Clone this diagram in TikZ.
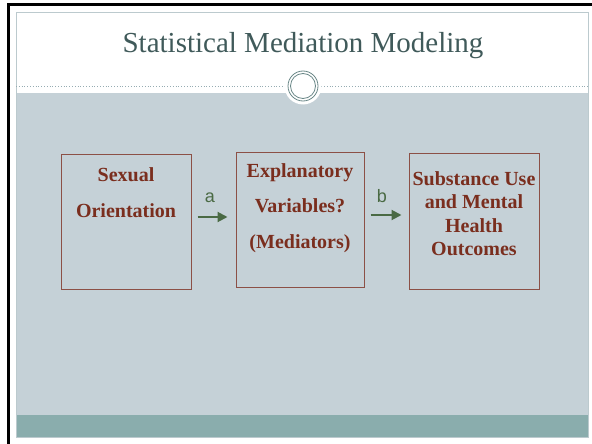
\documentclass[tikz,border=0pt]{standalone}
\usepackage{fontspec}
\setmainfont{Liberation Serif}
\newfontfamily\labelfont{Liberation Sans}
\usetikzlibrary{arrows.meta}
\definecolor{slidegray}{RGB}{197,209,215}
\definecolor{barteal}{RGB}{138,173,173}
\definecolor{framegray}{RGB}{188,202,206}
\definecolor{dotcol}{RGB}{150,172,178}
\definecolor{titlecol}{RGB}{64,90,90}
\definecolor{ringcol}{RGB}{105,135,135}
\definecolor{boxline}{RGB}{140,80,70}
\definecolor{boxtext}{RGB}{122,46,30}
\definecolor{arrowgreen}{RGB}{74,106,68}
\tikzset{
  box/.style={draw=boxline, line width=1pt, minimum width=#1, minimum height=135pt, inner sep=0pt},
  boxtxt/.style={text=boxtext, align=center, inner sep=0pt, font=\bfseries\fontsize{20}{#1}\selectfont},
  arr/.style={draw=arrowgreen, line width=2pt, -{Triangle[length=10pt,width=10pt]}},
  lbl/.style={text=arrowgreen, inner sep=0pt, font=\labelfont\fontsize{18}{20}\selectfont},
  titletxt/.style={text=titlecol, inner sep=0pt, font=\fontsize{29}{32}\selectfont}
}
\begin{document}
\begin{tikzpicture}[x=1pt,y=-1pt]
\useasboundingbox (0,0) rectangle (592,444);
\fill[white] (0,0) rectangle (592,444);
% window border
\fill[black] (7,3) rectangle (592,6);
\fill[black] (7,3) rectangle (10,444);
% slide
\fill[slidegray] (16,93) rectangle (588,415);
\fill[barteal] (16,415) rectangle (588,437);
\draw[framegray, line width=1pt] (16,13) rectangle (588,437);
\draw[dotcol, dotted, line width=0.8pt] (16,86) -- (588,86);
\fill[white] (303,86) circle (18.5);
\draw[ringcol, line width=0.8pt] (303,86) circle (15);
\draw[ringcol, line width=0.8pt] (303,86) circle (12.5);
% title
\node[titletxt, anchor=base] (title) at (303,53) {Statistical Mediation Modeling};
% boxes
\node[box=130pt] (b1) at (126,221.5) {};
\node[box=128pt] (b2) at (300,219.5) {};
\node[box=130pt, minimum height=136pt] (b3) at (474,221) {};
\node[boxtxt=36pt] (t1) at (126,192.5) {Sexual\\Orientation};
\node[boxtxt=35.5pt] (t2) at (300,208) {Explanatory\\Variables?\\(Mediators)};
\node[boxtxt=23.5pt] (t3) at (474,213.5) {Substance Use\\and Mental\\Health\\Outcomes};
% arrows
\draw[arr, shorten <=6pt, shorten >=8pt] ([yshift=4.5pt]b1.east) -- ([yshift=4.5pt]b1.east -| b2.west);
\draw[arr, shorten <=6pt, shorten >=7pt] ([yshift=4.5pt]b2.east) -- ([yshift=4.5pt]b2.east -| b3.west);
\node[lbl] (la) at (210,198) {a};
\node[lbl] (lb) at (382,196.5) {b};
\end{tikzpicture}
\end{document}
